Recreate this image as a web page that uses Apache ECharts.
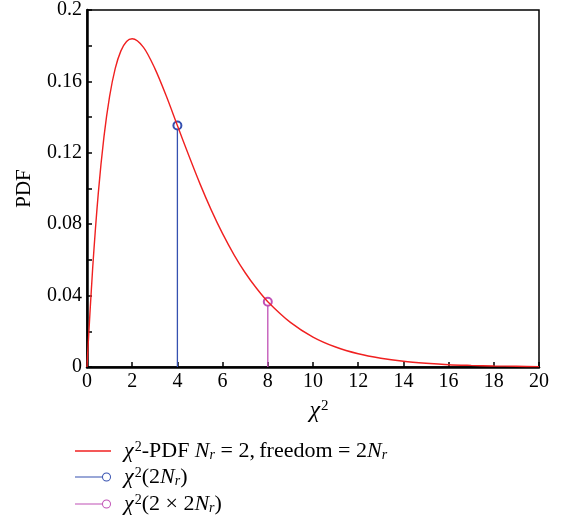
<!DOCTYPE html>
<html>
<head>
<meta charset="utf-8">
<script src="https://cdn.jsdelivr.net/npm/echarts@6/dist/echarts.min.js"></script>
<style>
  html, body { margin: 0; padding: 0; background: #fff; }
  #chart { width: 563px; height: 515px; }
</style>
</head>
<body>
<div id="chart"></div>
<script>
// chi-square pdf curve
const xs = [0, 0.05, 0.25, 0.5, 0.75, 1, 1.25, 1.5, 1.75, 2, 2.5, 3, 3.5, 4, 4.5, 5, 5.5, 6, 6.5, 7, 7.5, 8, 9, 10, 11, 12, 13, 14, 15, 16, 17, 18, 19, 20];
const pdf = [0, 0.0122, 0.0552, 0.0974, 0.1289, 0.1516, 0.1673, 0.1771, 0.1824, 0.1839, 0.1791, 0.1673, 0.1521, 0.1353, 0.1186, 0.1026, 0.0879, 0.0747, 0.0630, 0.0528, 0.0441, 0.0366, 0.0250, 0.0168, 0.0112, 0.0074, 0.0049, 0.0032, 0.0021, 0.0013, 0.0009, 0.0006, 0.0004, 0.0002];
// marked points
const markX = [4, 8];
const markY = [0.1353, 0.0366];
const legendText = {
  pdf: "{i|χ}{sup|2}-PDF {i|N}{sub|r} = 2,\u2009freedom = 2{i|N}{sub|r}",
  chi1: "{i|χ}{sup|2}(2{i|N}{sub|r})",
  chi2: "{i|χ}{sup|2}(2 × 2{i|N}{sub|r})"
};

const serif = "Liberation Serif";
const rich = {
  i: { fontFamily: serif, fontStyle: "italic", fontSize: 22, lineHeight: 22, color: "#000" },
  sup: { fontFamily: serif, fontSize: 14, verticalAlign: "top", lineHeight: 11, padding: [0, 0, 0, 1], color: "#000" },
  sub: { fontFamily: serif, fontStyle: "italic", fontSize: 14, verticalAlign: "bottom", lineHeight: 10, color: "#000" }
};
const xRich = {
  i: { fontFamily: serif, fontStyle: "italic", fontSize: 24, lineHeight: 24, color: "#000" },
  sup: { fontFamily: serif, fontSize: 15, verticalAlign: "top", lineHeight: 11, padding: [0, 0, 0, 1], color: "#000" }
};

// line with a small ring on the right end
const stemIcon = "path://M0,4.5 L27,4.5 L27,5.5 L0,5.5 Z M36,5 A4.5,4.5 0 1,1 27,5 A4.5,4.5 0 1,1 36,5 Z M35,5 A3.5,3.5 0 1,0 28,5 A3.5,3.5 0 1,0 35,5 Z";
const lineIcon = "path://M0,0 L36,0 L36,1.6 L0,1.6 Z";

const chart = echarts.init(document.getElementById("chart"));

function stem(name, i, color) {
  return {
    name: name,
    type: "line",
    data: [
      { value: [markX[i], 0], symbol: "none" },
      { value: [markX[i], markY[i]] }
    ],
    symbol: "emptyCircle",
    symbolSize: 8,
    itemStyle: { color: color, borderWidth: 1.2 },
    lineStyle: { color: color, width: 1.3 },
    z: 3
  };
}

function legendRow(name, top, icon) {
  return {
    orient: "vertical",
    left: 70,
    top: top,
    itemWidth: 36,
    itemHeight: 10,
    selectedMode: false,
    formatter: function (n) { return legendText[n]; },
    textStyle: { fontFamily: serif, fontSize: 22, color: "#000", lineHeight: 22, padding: [0, 0, 0, 8], rich: rich },
    data: [{ name: name, icon: icon, itemStyle: { borderWidth: 0 } }]
  };
}

chart.setOption({
  animation: false,
  grid: {
    left: 87, right: 24, top: 10, bottom: 148,
    show: true, borderColor: "#000", borderWidth: 1.5
  },
  legend: [
    legendRow("pdf", 435, lineIcon),
    legendRow("chi1", 461, stemIcon),
    legendRow("chi2", 488, stemIcon)
  ],
  xAxis: {
    type: "value",
    min: 0, max: 20, interval: 2,
    name: "{i|χ}{sup|2}",
    nameLocation: "middle",
    nameGap: 32,
    nameTextStyle: { rich: xRich, padding: [0, 0, 0, 12] },
    axisLine: { lineStyle: { color: "#000", width: 2.5 } },
    axisTick: { inside: true, length: 5, lineStyle: { color: "#000", width: 1.5 } },
    axisLabel: { fontFamily: serif, fontSize: 20, color: "#000", margin: 5 },
    splitLine: { show: false }
  },
  yAxis: {
    type: "value",
    min: 0, max: 0.2, interval: 0.04,
    name: "PDF",
    nameLocation: "middle",
    nameGap: 52,
    nameTextStyle: { fontFamily: serif, fontSize: 21, color: "#000" },
    axisLine: { show: true, lineStyle: { color: "#000", width: 2.5 } },
    axisTick: { inside: true, length: 5, lineStyle: { color: "#000", width: 1.5 } },
    minorTick: { show: true, splitNumber: 2, length: 5, lineStyle: { color: "#000", width: 1.5 } },
    axisLabel: { fontFamily: serif, fontSize: 20, color: "#000", margin: 5 },
    splitLine: { show: false }
  },
  series: [
    {
      name: "pdf",
      type: "line",
      data: xs.map(function (x, i) { return [x, pdf[i]]; }),
      smooth: 0.3,
      showSymbol: false,
      symbol: "none",
      lineStyle: { color: "#f02020", width: 1.4 },
      itemStyle: { color: "#f02020" },
      z: 4
    },
    stem("chi1", 0, "#3550b0"),
    stem("chi2", 1, "#c050b5")
  ]
});
</script>
</body>
</html>
